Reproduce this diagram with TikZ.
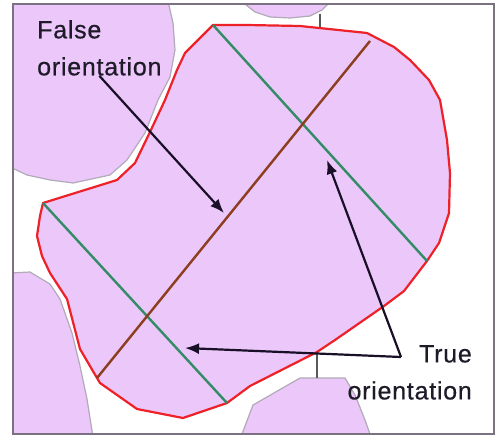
\documentclass[tikz,border=0pt]{standalone}
\usepackage{fontspec}
\setmainfont{Liberation Sans}
\newfontfamily\labelfont[FakeBold=0.6, LetterSpace=3]{Liberation Sans}
\usepackage{xcolor}
\usetikzlibrary{arrows.meta}

\definecolor{cellfill}{RGB}{235,199,250}
\definecolor{celledge}{RGB}{178,170,184}
\definecolor{grainred}{RGB}{238,32,40}
\definecolor{axisgreen}{RGB}{52,140,102}
\definecolor{axisbrown}{RGB}{140,62,30}
\definecolor{pointer}{RGB}{25,16,40}
\definecolor{labeltext}{RGB}{30,26,40}
\definecolor{framegray}{RGB}{122,114,128}

\begin{document}
\begin{tikzpicture}[
    x=1pt, y=-1pt,
    cell/.style={fill=cellfill, draw=celledge, line width=1.2pt},
    grain/.style={fill=cellfill, draw=grainred, line width=2.2pt, line join=round},
    trueaxis/.style={draw=axisgreen, line width=2.4pt},
    falseaxis/.style={draw=axisbrown, line width=2.4pt},
    pointerarrow/.style={draw=pointer, line width=2.2pt, -{Latex[length=14pt,width=11pt]}},
    boundary/.style={draw=black!65, line width=1.4pt},
    lbl/.style={font=\labelfont\fontsize{25}{37}\selectfont, text=labeltext, inner sep=0pt}
]
\useasboundingbox (0,0) rectangle (497,436);
\fill[white] (0,0) rectangle (497,436);

% neighbouring grains
\begin{scope}
\clip (13,4) rectangle (494,434);
\path[cell] (10,1) -- (168,1) -- (173,23) -- (175,50) -- (170,77) -- (158,100)
    -- (145,133) -- (127,160) -- (110,175) -- (73,183) -- (50,180) -- (27,175)
    -- (10,167) -- cycle;
\path[cell] (245,1) -- (245,4) -- (255,12) -- (270,17) -- (290,18) -- (310,16)
    -- (322,10) -- (328,4) -- (328,1) -- cycle;
\path[cell] (10,273) -- (30,272) -- (50,284) -- (60,299) -- (72,333) -- (80,366)
    -- (87,399) -- (93,437) -- (10,437) -- cycle;
\path[cell] (240,437) -- (242,434) -- (253,405) -- (300,378) -- (345,378)
    -- (355,395) -- (365,420) -- (371,437) -- cycle;
\end{scope}
\draw[boundary] (320,14) -- (320,27);
\draw[boundary] (317,352) -- (317,378);

% grain under study
\path[grain] (213,25) -- (247,25) -- (300,26) -- (367,33) -- (394,47) -- (410,60)
    -- (429,80) -- (440,100) -- (447,140) -- (450,173) -- (449,213) -- (439,243)
    -- (427,261) -- (404,291) -- (384,306) -- (335,340) -- (317,352) -- (250,386)
    -- (227,403) -- (183,418) -- (137,409) -- (100,383) -- (97,378) -- (80,349)
    -- (67,299) -- (50,273) -- (42,256) -- (37,236) -- (40,216) -- (43,203)
    -- (117,180) -- (135,163) -- (150,132) -- (165,100) -- (177,70) -- (185,53)
    -- cycle;

% axes
\coordinate (upperA) at (213,25);
\coordinate (upperB) at (427,261);
\coordinate (lowerA) at (43,203);
\coordinate (lowerB) at (227,403);
\coordinate (longA) at (97,378);
\coordinate (longB) at (370,41);
\draw[trueaxis] (upperA) -- (upperB);
\draw[trueaxis] (lowerA) -- (lowerB);
\draw[falseaxis] (longA) -- (longB);

% labels
\node[lbl, anchor=north west, align=left] (falselbl) at (37,20) {False\\orientation};
\node[lbl, anchor=north east, align=right] (truelbl) at (472,345) {True\\orientation};

% pointers
\coordinate (falsetip) at (224,213);
\coordinate (truefork) at (401,357);
\coordinate (uppertip) at (327,160);
\coordinate (lowertip) at (185,348);
\draw[pointerarrow] (falselbl.south) -- (falsetip);
\draw[pointerarrow] (truefork) -- (uppertip);
\draw[pointerarrow] (truefork) -- (lowertip);

% frame
\draw[framegray, line width=1.8pt] (13,4) rectangle (494,434);
\end{tikzpicture}
\end{document}
